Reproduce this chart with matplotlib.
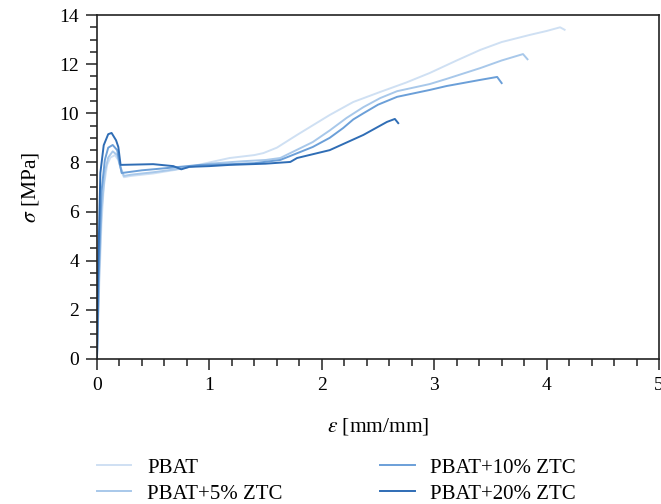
import matplotlib
matplotlib.use("Agg")
import matplotlib.pyplot as plt
from matplotlib.ticker import MultipleLocator

plt.rcParams['font.family'] = ['Liberation Serif', 'DejaVu Serif']
plt.rcParams['mathtext.fontset'] = 'stix'

labels = ["PBAT", "PBAT+5% ZTC", "PBAT+10% ZTC", "PBAT+20% ZTC"]
colors = ["#cfe0f3", "#a8c8ea", "#6b9fd8", "#2f6db5"]

pbat_x = [0, 0.02, 0.04, 0.06, 0.09, 0.12, 0.16, 0.19, 0.22, 0.24, 0.3, 0.5, 0.7, 1.0, 1.18,
          1.4, 1.48, 1.6, 1.78, 2.07, 2.28, 2.52, 2.75, 2.96, 3.2, 3.41, 3.6, 3.85, 4.0, 4.12, 4.16]
pbat_y = [0, 3.0, 5.5, 7.0, 7.9, 8.2, 8.3, 8.1, 7.6, 7.4, 7.45, 7.55, 7.7, 8.0, 8.18,
          8.3, 8.38, 8.6, 9.12, 9.93, 10.46, 10.87, 11.25, 11.64, 12.15, 12.58, 12.9, 13.19, 13.35, 13.5, 13.4]

z5_x = [0, 0.02, 0.04, 0.07, 0.10, 0.14, 0.18, 0.21, 0.24, 0.3, 0.5, 0.7, 1.0, 1.3, 1.5,
        1.63, 1.92, 2.07, 2.22, 2.37, 2.52, 2.67, 2.96, 3.11, 3.41, 3.6, 3.79, 3.83]
z5_y = [0, 3.5, 6.0, 7.6, 8.2, 8.45, 8.3, 7.8, 7.45, 7.5, 7.6, 7.72, 7.95, 8.05, 8.1,
        8.18, 8.83, 9.3, 9.81, 10.25, 10.62, 10.9, 11.19, 11.4, 11.84, 12.15, 12.41, 12.2]

z10_x = [0, 0.02, 0.04, 0.07, 0.10, 0.14, 0.18, 0.20, 0.22, 0.4, 0.62, 0.92, 1.2, 1.4, 1.63,
         1.92, 2.07, 2.19, 2.28, 2.37, 2.5, 2.67, 2.96, 3.11, 3.41, 3.56, 3.60]
z10_y = [0, 4.0, 6.8, 8.1, 8.6, 8.71, 8.5, 8.0, 7.57, 7.68, 7.77, 7.9, 7.93, 7.97, 8.1,
         8.63, 9.0, 9.4, 9.75, 10.0, 10.35, 10.67, 10.95, 11.11, 11.36, 11.48, 11.23]

z20_x = [0, 0.01, 0.03, 0.06, 0.10, 0.13, 0.17, 0.19, 0.21, 0.5, 0.68, 0.75, 0.82, 1.0, 1.18,
         1.5, 1.72, 1.78, 2.07, 2.37, 2.58, 2.65, 2.68]
z20_y = [0, 3.5, 7.57, 8.7, 9.15, 9.2, 8.9, 8.63, 7.9, 7.93, 7.85, 7.72, 7.82, 7.85, 7.9,
         7.95, 8.02, 8.18, 8.5, 9.12, 9.65, 9.77, 9.6]

series = [(pbat_x, pbat_y), (z5_x, z5_y), (z10_x, z10_y), (z20_x, z20_y)]

fig = plt.figure(figsize=(6.61, 5.04), dpi=100)
ax = fig.add_axes([0.1467, 0.2877, 0.8503, 0.6825])

handles = []
for (xs, ys), c, lab in zip(series, colors, labels):
    h, = ax.plot(xs, ys, color=c, lw=1.4, label=lab)
    handles.append(h)

ax.set_xlim(0, 5)
ax.set_ylim(0, 14)
ax.xaxis.set_major_locator(MultipleLocator(1))
ax.xaxis.set_minor_locator(MultipleLocator(0.2))
ax.yaxis.set_major_locator(MultipleLocator(2))
ax.yaxis.set_minor_locator(MultipleLocator(0.5))
ax.tick_params(which='both', direction='out', width=1.2, labelsize=14, color='#333333')
ax.tick_params(which='major', length=8, pad=5)
ax.tick_params(which='minor', length=5)
for s in ax.spines.values():
    s.set_linewidth(1.2)
    s.set_color('#222222')

ax.set_xlabel(r'$\varepsilon$ [mm/mm]', fontsize=15.5, labelpad=16)
ax.set_ylabel(r'$\sigma$ [MPa]', fontsize=15.5, labelpad=13)

fig.legend(handles=handles, labels=labels, ncol=2, frameon=False, fontsize=15,
           loc='upper left', bbox_to_anchor=(0.1467, 0.091), borderpad=0, borderaxespad=0,
           columnspacing=4.7, handlelength=1.65, handletextpad=0.75, labelspacing=0.3)

fig.savefig("out.png", dpi=100)
